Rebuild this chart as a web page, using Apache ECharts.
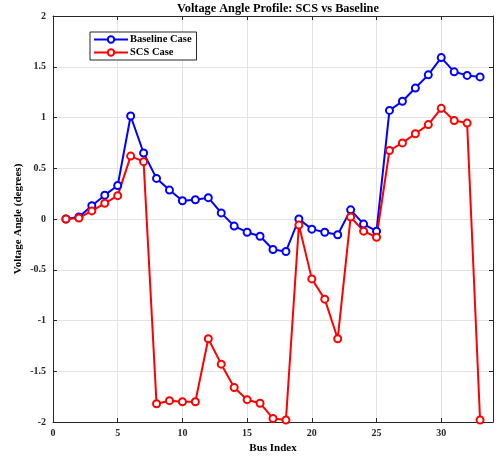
<!DOCTYPE html>
<html>
<head>
<meta charset="utf-8">
<script src="https://cdn.jsdelivr.net/npm/echarts@6/dist/echarts.min.js"></script>
<style>
  html, body { margin: 0; padding: 0; background: #fff; }
  #chart { width: 500px; height: 459px; }
</style>
</head>
<body>
<div id="chart"></div>
<script>
// bus numbers 1..33
const buses = [1, 2, 3, 4, 5, 6, 7, 8, 9, 10, 11, 12, 13, 14, 15, 16, 17, 18, 19, 20, 21, 22, 23, 24, 25, 26, 27, 28, 29, 30, 31, 32, 33]
const baseline = [0, 0.02, 0.13, 0.235, 0.33, 1.015, 0.65, 0.40, 0.285, 0.18, 0.19, 0.21, 0.06, -0.07, -0.13, -0.17, -0.30, -0.32,
    0.0, -0.10, -0.13, -0.155, 0.09, -0.05, -0.12, 1.07, 1.16, 1.29, 1.42, 1.59, 1.45, 1.415, 1.40]
const scs = [0, 0.01, 0.08, 0.155, 0.23, 0.62, 0.565, -1.82, -1.79, -1.80, -1.80, -1.18, -1.43, -1.66, -1.78, -1.815, -1.965, -1.98,
    -0.06, -0.59, -0.79, -1.18, 0.02, -0.12, -0.18, 0.675, 0.75, 0.84, 0.93, 1.09, 0.97, 0.945, -1.98]
const xTicks = [0, 5, 10, 15, 20, 25, 30]
const yTicks = [-2, -1.5, -1, -0.5, 0, 0.5, 1, 1.5, 2]

const font = 'Liberation Serif'
const pair = (ys) => buses.map((b, i) => [b, ys[i]])

const chart = echarts.init(document.getElementById('chart'))

const axisCommon = {
    axisLine: { show: true, onZero: false, lineStyle: { color: '#262626', width: 1 } },
    axisTick: { show: true, inside: true, length: 4, lineStyle: { color: '#262626' } },
}

chart.setOption({
    animation: false,
    title: {
        text: 'Voltage Angle Profile: SCS vs Baseline',
        left: 172,
        top: -2,
        textStyle: { fontFamily: font, fontWeight: 'bold', fontSize: 12.3, color: '#000' }
    },
    legend: {
        left: 90,
        top: 32,
        orient: 'vertical',
        itemWidth: 34,
        itemHeight: 8,
        itemGap: 2,
        padding: [2, 5, 2, 3],
        borderColor: '#262626',
        borderWidth: 1,
        backgroundColor: '#fff',
        textStyle: { fontFamily: font, fontWeight: 'bold', fontSize: 10.5, color: '#000', padding: [0, 0, 0, -3] },
        data: ['Baseline Case', 'SCS Case']
    },
    grid: { left: 53, right: 7, top: 16, bottom: 36 },
    xAxis: [{
        ...axisCommon,
        type: 'value',
        min: 0,
        max: 34,
        interval: 5,
        name: 'Bus Index',
        nameLocation: 'middle',
        nameGap: 21,
        nameTextStyle: { fontFamily: font, fontWeight: 'bold', fontSize: 11, color: '#000' },
        axisLabel: {
            fontFamily: font, fontWeight: 'bold', fontSize: 10, color: '#262626', margin: 6,
            formatter: v => xTicks.includes(v) ? String(v) : ''
        },
        splitLine: { show: true, lineStyle: { color: '#e3e3e3' } }
    }, {
        ...axisCommon,
        type: 'value',
        position: 'top',
        min: 0,
        max: 34,
        interval: 5,
        axisLabel: { show: false },
        splitLine: { show: false }
    }],
    yAxis: [{
        ...axisCommon,
        type: 'value',
        min: -2,
        max: 2,
        interval: 0.5,
        name: 'Voltage Angle (degrees)',
        nameLocation: 'middle',
        nameGap: 29,
        nameMoveOverlap: false,
        nameTextStyle: { fontFamily: font, fontWeight: 'bold', fontSize: 11, color: '#000' },
        axisLabel: {
            fontFamily: font, fontWeight: 'bold', fontSize: 10, color: '#262626', margin: 7,
            formatter: v => yTicks.includes(v) ? String(v) : ''
        },
        splitLine: { show: true, lineStyle: { color: '#e3e3e3' } }
    }, {
        ...axisCommon,
        type: 'value',
        position: 'right',
        min: -2,
        max: 2,
        interval: 0.5,
        axisLabel: { show: false },
        splitLine: { show: false }
    }],
    series: [
        {
            name: 'Baseline Case',
            type: 'line',
            data: pair(baseline),
            symbol: 'emptyCircle',
            symbolSize: 7,
            color: '#0000ff',
            itemStyle: { borderWidth: 2 },
            lineStyle: { width: 2 }
        },
        {
            name: 'SCS Case',
            type: 'line',
            data: pair(scs),
            symbol: 'emptyCircle',
            symbolSize: 7,
            color: '#ff0000',
            itemStyle: { borderWidth: 2 },
            lineStyle: { width: 2 }
        }
    ]
})
</script>
</body>
</html>
